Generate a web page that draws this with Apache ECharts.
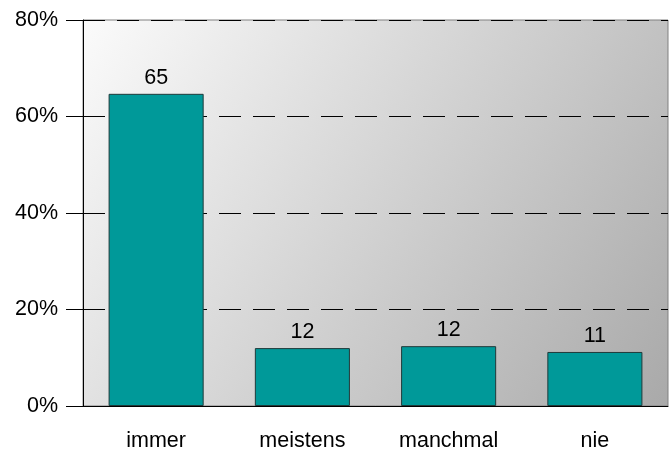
<!DOCTYPE html>
<html>
<head>
<meta charset="utf-8">
<script src="https://cdn.jsdelivr.net/npm/echarts@6/dist/echarts.min.js"></script>
<style>html,body{margin:0;padding:0;background:#fff;}#c{width:669px;height:453px;}</style>
</head>
<body>
<div id="c"></div>
<script>
const categories = ['immer', 'meistens', 'manchmal', 'nie'];
const values = [64.7, 12.0, 12.4, 11.2];
const yTicks = [0, 20, 40, 60, 80];

const chart = echarts.init(document.getElementById('c'), null, {renderer: 'canvas'});
chart.setOption({
  animation: false,
  textStyle: {fontFamily: 'Liberation Sans, Arial, sans-serif'},
  grid: {
    left: 83, right: 1, top: 20, bottom: 47,
    show: true,
    borderWidth: 1,
    borderColor: '#808080',
    backgroundColor: new echarts.graphic.LinearGradient(0, 0, 1, 1, [
      {offset: 0, color: '#fbfbfb'},
      {offset: 1, color: '#a9a9a9'}
    ])
  },
  xAxis: {
    type: 'category',
    data: categories,
    axisLine: {show: true, lineStyle: {color: '#000', width: 1}},
    axisTick: {show: false},
    axisLabel: {color: '#000', fontSize: 21.5, margin: 24, fontFamily: 'Liberation Sans'}
  },
  yAxis: {
    type: 'value',
    min: yTicks[0], max: yTicks[yTicks.length - 1], interval: 20,
    axisLine: {show: true, lineStyle: {color: '#000', width: 1}},
    axisTick: {show: true, length: 17, lineStyle: {color: '#000'}},
    axisLabel: {color: '#000', fontSize: 21.5, margin: 25, formatter: '{value}%', fontFamily: 'Liberation Sans'},
    splitLine: {show: true, lineStyle: {color: '#000', width: 1, type: [22, 12]}}
  },
  series: [{
    type: 'bar',
    data: values,
    barWidth: '65%',
    itemStyle: {color: '#009999', borderColor: '#1f3a3a', borderWidth: 1},
    label: {
      show: true, position: 'top', distance: 5,
      color: '#000', fontSize: 21.5, fontFamily: 'Liberation Sans',
      formatter: p => Math.round(p.value)
    }
  }]
});
</script>
</body>
</html>
